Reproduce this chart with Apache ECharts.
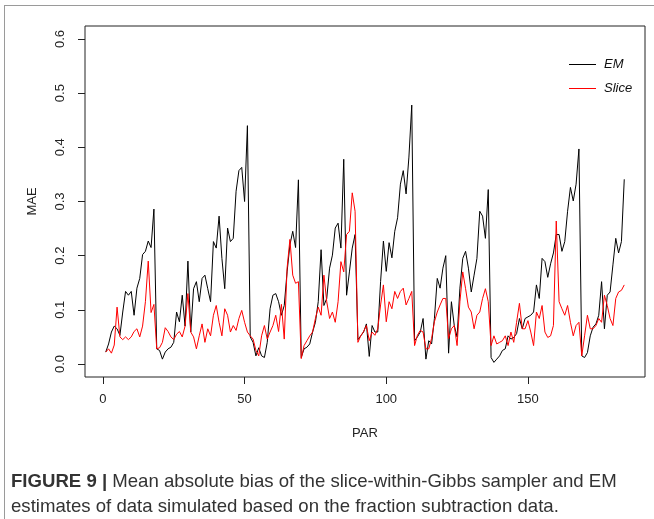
<!DOCTYPE html>
<html>
<head>
<meta charset="utf-8">
<script src="https://cdn.jsdelivr.net/npm/echarts@6/dist/echarts.min.js"></script>
<style>
html,body{margin:0;padding:0;background:#fff;}
#c{width:654px;height:519px;}
</style>
</head>
<body>
<div id="c"></div>
<script>
const seriesNames = ["EM", "Slice"];
const xTicks = [0, 50, 100, 150];
const yTicks = [0, 0.1, 0.2, 0.3, 0.4, 0.5, 0.6];
const emValues = [
0.022,0.037,0.059,0.070,0.065,0.053,0.096,0.134,0.127,0.134,
0.090,0.140,0.158,0.202,0.208,0.227,0.215,0.286,0.028,0.025,
0.009,0.022,0.028,0.031,0.040,0.096,0.078,0.127,0.070,0.190,
0.059,0.139,0.152,0.115,0.158,0.164,0.139,0.115,0.226,0.214,
0.273,0.195,0.139,0.251,0.226,0.232,0.319,0.357,0.363,0.300,
0.440,0.050,0.040,0.015,0.030,0.015,0.012,0.040,0.102,0.127,
0.130,0.115,0.090,0.108,0.170,0.220,0.245,0.215,0.340,0.012,
0.028,0.031,0.037,0.059,0.077,0.115,0.211,0.108,0.121,0.177,
0.201,0.251,0.260,0.214,0.378,0.127,0.170,0.214,0.239,0.045,
0.052,0.059,0.074,0.014,0.071,0.059,0.059,0.152,0.227,0.171,
0.224,0.196,0.245,0.270,0.332,0.357,0.314,0.382,0.478,0.043,
0.050,0.059,0.084,0.009,0.043,0.037,0.084,0.158,0.140,0.177,
0.200,0.020,0.115,0.071,0.050,0.140,0.195,0.208,0.177,0.133,
0.164,0.195,0.282,0.273,0.232,0.322,0.012,0.003,0.009,0.015,
0.025,0.028,0.052,0.046,0.049,0.056,0.084,0.065,0.084,0.087,
0.090,0.096,0.146,0.121,0.195,0.189,0.160,0.185,0.205,0.239,
0.239,0.208,0.226,0.282,0.326,0.301,0.332,0.397,0.015,0.012,
0.021,0.052,0.068,0.074,0.090,0.152,0.065,0.127,0.133,0.183,
0.232,0.205,0.226,0.341
];
const sliceValues = [
0.022,0.028,0.020,0.035,0.105,0.050,0.045,0.050,0.045,0.050,
0.060,0.065,0.050,0.070,0.115,0.190,0.095,0.110,0.028,0.030,
0.040,0.067,0.060,0.050,0.045,0.055,0.060,0.050,0.070,0.130,
0.059,0.050,0.028,0.052,0.074,0.040,0.065,0.052,0.090,0.108,
0.077,0.052,0.102,0.090,0.059,0.071,0.062,0.084,0.099,0.077,
0.059,0.052,0.046,0.025,0.015,0.052,0.071,0.046,0.059,0.071,
0.090,0.060,0.110,0.046,0.177,0.230,0.164,0.149,0.152,0.010,
0.034,0.043,0.052,0.059,0.084,0.105,0.090,0.164,0.115,0.084,
0.096,0.077,0.115,0.189,0.170,0.239,0.245,0.316,0.282,0.040,
0.052,0.060,0.071,0.043,0.059,0.053,0.065,0.109,0.146,0.078,
0.115,0.102,0.134,0.121,0.134,0.140,0.109,0.121,0.134,0.034,
0.053,0.062,0.059,0.028,0.028,0.047,0.078,0.096,0.109,0.121,
0.121,0.047,0.065,0.071,0.034,0.115,0.170,0.139,0.105,0.096,
0.065,0.090,0.096,0.121,0.139,0.115,0.034,0.052,0.037,0.040,
0.043,0.052,0.034,0.059,0.040,0.077,0.112,0.065,0.065,0.080,
0.059,0.034,0.096,0.084,0.108,0.059,0.049,0.052,0.071,0.264,
0.115,0.102,0.090,0.108,0.077,0.052,0.071,0.077,0.015,0.052,
0.090,0.065,0.065,0.071,0.084,0.077,0.127,0.108,0.084,0.071,
0.121,0.133,0.136,0.146
];
const emData = emValues.map((v, i) => [i + 1, v]);
const sliceData = sliceValues.map((v, i) => [i + 1, v]);
const n = emValues.length;
const xPad = (n - 1) * 0.04;
const yPad = 0.6 * 0.04;

const chart = echarts.init(document.getElementById('c'), null, {renderer: 'canvas'});
const font = 'Liberation Sans, Arial, Helvetica, sans-serif';
chart.setOption({
  animation: false,
  backgroundColor: '#fff',
  grid: {left: 85, top: 26, right: 9, bottom: 142, show: true, borderColor: '#222', borderWidth: 1, containLabel: false},
  xAxis: {
    type: 'value', min: 1 - xPad, max: n + xPad, position: 'bottom',
    name: 'PAR', nameLocation: 'middle', nameGap: 50,
    nameTextStyle: {fontFamily: font, fontSize: 13, color: '#222'},
    axisLine: {show: false, onZero: false},
    splitLine: {show: false},
    axisTick: {show: true, inside: false, length: 7, lineStyle: {color: '#222'}, customValues: xTicks},
    axisLabel: {fontFamily: font, fontSize: 13, color: '#222', margin: 16, customValues: xTicks, formatter: v => String(v)}
  },
  yAxis: {
    type: 'value', min: -yPad, max: 0.6 + yPad, position: 'left',
    name: 'MAE', nameLocation: 'middle', nameGap: 46, nameRotate: 90,
    nameTextStyle: {fontFamily: font, fontSize: 13, color: '#222'},
    axisLine: {show: false, onZero: false},
    splitLine: {show: false},
    axisTick: {show: true, inside: false, length: 7, lineStyle: {color: '#222'}, customValues: yTicks},
    axisLabel: {fontFamily: font, fontSize: 13, color: '#222', rotate: 90, margin: 18, customValues: yTicks, formatter: v => v.toFixed(1)}
  },
  legend: {
    orient: 'vertical', left: 564, top: 53, itemWidth: 27, itemHeight: 1, itemGap: 11,
    icon: 'rect',
    data: seriesNames,
    textStyle: {fontFamily: font, fontSize: 13, fontStyle: 'italic', color: '#111', padding: [0, 0, 0, 3]}
  },
  series: [
    {name: seriesNames[0], type: 'line', data: emData, showSymbol: false, symbol: 'none', color: '#000', lineStyle: {color: '#000', width: 1}},
    {name: seriesNames[1], type: 'line', data: sliceData, showSymbol: false, symbol: 'none', color: '#ff0000', lineStyle: {color: '#ff0000', width: 1}}
  ],
  graphic: [
    {type: 'line', shape: {x1: 4, y1: 5.5, x2: 654, y2: 5.5}, style: {stroke: '#9a9a9a', lineWidth: 1}, silent: true},
    {type: 'line', shape: {x1: 4.5, y1: 5, x2: 4.5, y2: 519}, style: {stroke: '#9a9a9a', lineWidth: 1}, silent: true},
    {type: 'text', left: 11, top: 469, silent: true,
      style: {
        text: '{b|FIGURE 9 |} Mean absolute bias of the slice-within-Gibbs sampler and EM\nestimates of data simulated based on the fraction subtraction data.',
        font: '18.6px ' + font, fill: '#333', lineHeight: 25,
        rich: {b: {fontWeight: 'bold', fontSize: 18.6, fontFamily: font, fill: '#333'}}
      }
    }
  ]
});
</script>
</body>
</html>
